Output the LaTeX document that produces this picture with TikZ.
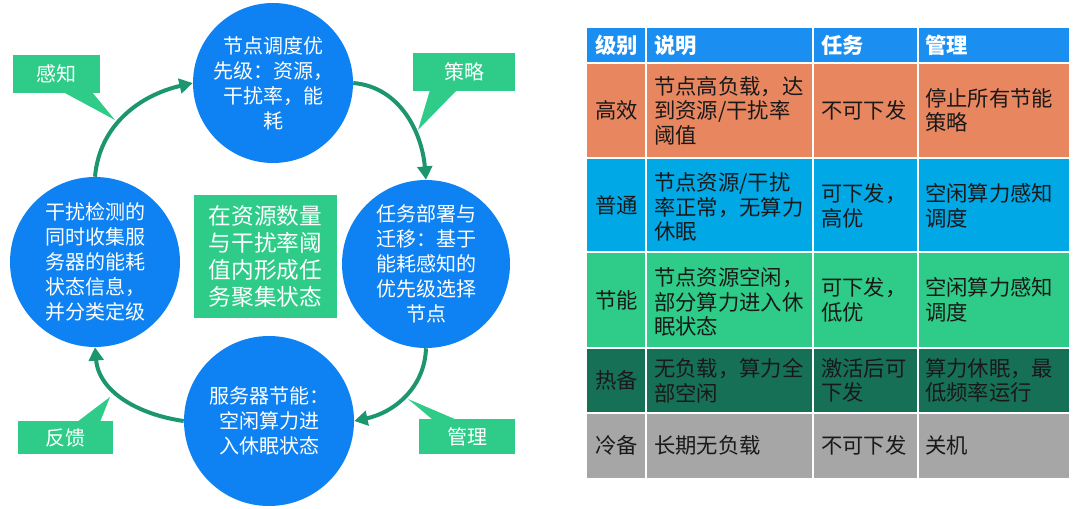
\documentclass[tikz,border=0pt]{standalone}
\usepackage{fontspec}
\setmainfont{Noto Sans CJK SC}
\usetikzlibrary{arrows.meta}
\definecolor{cblue}{RGB}{14,130,242}
\definecolor{cgreen}{RGB}{46,204,136}
\definecolor{carrow}{RGB}{28,150,110}
\definecolor{hblue}{RGB}{27,142,241}
\definecolor{rorange}{RGB}{232,134,96}
\definecolor{rcyan}{RGB}{0,168,230}
\definecolor{rgreen}{RGB}{46,204,136}
\definecolor{rdark}{RGB}{22,112,86}
\definecolor{rgray}{RGB}{166,166,166}
\definecolor{ctext}{RGB}{25,25,25}
\begin{document}
\begin{tikzpicture}[x=0.75pt,y=-0.75pt,
  bubble/.style={circle, fill=cblue, text=white, inner sep=0pt, align=center,
    font=\fontsize{15}{18.75}\selectfont},
  flow/.style={carrow, line width=3pt, -{Triangle[length=10pt,width=11pt]}},
  tag/.style={fill=cgreen, text=white, inner sep=0pt, font=\fontsize{15}{18}\selectfont},
  tbl/.style={inner sep=0pt, align=left, text=ctext, font=\fontsize{16}{18.4}\selectfont},
  tblc/.style={tbl, align=center},
  hdr/.style={tbl, text=white, font=\fontsize{16}{18.4}\selectfont\bfseries},
  grid/.style={white, line width=1.5pt}
]
\useasboundingbox (0,0) rectangle (1080,509);

% ---------- circles ----------
\node[bubble, minimum size=120pt] (top) at (273,83) {节点调度优\\先级：资源，\\干扰率，能\\耗};
\node[bubble, minimum size=127.5pt] (left) at (95,262) {干扰检测的\\同时收集服\\务器的能耗\\状态信息，\\并分类定级};
\node[bubble, minimum size=126pt] (right) at (426,264) {任务部署与\\迁移：基于\\能耗感知的\\优先级选择\\节点};
\node[bubble, minimum size=127.5pt] (bottom) at (269,421) {服务器节能：\\空闲算力进\\入休眠状态};

% ---------- centre box ----------
\node[fill=cgreen, text=white, inner sep=0pt, minimum width=107.25pt, minimum height=92.25pt,
  align=center, font=\fontsize{17}{20.25}\selectfont] (mid) at (265.5,256.5)
  {在资源数量\\与干扰率阈\\值内形成任\\务聚集状态};

% ---------- arrows ----------
\draw[flow] (left.north) to[out=85,in=193] (top.west);
\draw[flow] (top.east) to[out=-5,in=95] (right.north);
\draw[flow] (right.south) to[out=-92,in=12] (bottom.east);
\draw[flow] (bottom.west) to[out=172,in=-85] (left.south);

% ---------- callouts ----------
\fill[cgreen] (63,92) -- (115,120) -- (92,92) -- cycle;
\node[tag, minimum width=65.25pt, minimum height=28.5pt] (gz) at (56.5,74) {感知};
\fill[cgreen] (430,90) -- (418,130) -- (457,90) -- cycle;
\node[tag, minimum width=76.5pt, minimum height=28.5pt] (cl) at (464,72) {策略};
\fill[cgreen] (77,422) -- (110,397) -- (100,422) -- cycle;
\node[tag, minimum width=71.25pt, minimum height=24.75pt] (fk) at (65.5,437.5) {反馈};
\fill[cgreen] (433,420) -- (408,399) -- (457,420) -- cycle;
\node[tag, minimum width=72pt, minimum height=26.25pt] (gl) at (467,436.5) {管理};

% ---------- table ----------
\fill[hblue]   (587,28)  rectangle (1069,63);
\fill[rorange] (587,63)  rectangle (1069,158);
\fill[rcyan]   (587,158) rectangle (1069,252);
\fill[rgreen]  (587,252) rectangle (1069,348);
\fill[rdark]   (587,348) rectangle (1069,413);
\fill[rgray]   (587,413) rectangle (1069,478);
\foreach \yy in {63,158,252,348,413} \draw[grid] (587,\yy) -- (1069,\yy);
\foreach \xx in {646,813,918} \draw[grid] (\xx,28) -- (\xx,478);

% header
\node[hdr, align=center] (h1) at (616.5,45.5) {级别};
\node[hdr, anchor=west] (h2) at (654,45.5) {说明};
\node[hdr, anchor=west] (h3) at (821,45.5) {任务};
\node[hdr, anchor=west] (h4) at (925,45.5) {管理};
% row 1
\node[tblc] (a1) at (616.5,110.5) {高效};
\node[tbl, anchor=west] (b1) at (654,110.5) {节点高负载，达\\到资源/干扰率\\阈值};
\node[tbl, anchor=west] (c1) at (821,110.5) {不可下发};
\node[tbl, anchor=west] (d1) at (925,110.5) {停止所有节能\\策略};
% row 2
\node[tblc] (a2) at (616.5,205) {普通};
\node[tbl, anchor=west] (b2) at (654,207) {节点资源/干扰\\率正常，无算力\\休眠};
\node[tbl, anchor=west] (c2) at (821,206) {可下发，\\高优};
\node[tbl, anchor=west] (d2) at (925,206) {空闲算力感知\\调度};
% row 3
\node[tblc] (a3) at (616.5,300) {节能};
\node[tbl, anchor=west] (b3) at (654,302) {节点资源空闲，\\部分算力进入休\\眠状态};
\node[tbl, anchor=west] (c3) at (821,300) {可下发，\\低优};
\node[tbl, anchor=west] (d3) at (925,300) {空闲算力感知\\调度};
% row 4
\node[tblc] (a4) at (616.5,380.5) {热备};
\node[tbl, anchor=west] (b4) at (654,380.5) {无负载，算力全\\部空闲};
\node[tbl, anchor=west] (c4) at (821,380.5) {激活后可\\下发};
\node[tbl, anchor=west] (d4) at (925,380.5) {算力休眠，最\\低频率运行};
% row 5
\node[tblc] (a5) at (616.5,445.5) {冷备};
\node[tbl, anchor=west] (b5) at (654,445.5) {长期无负载};
\node[tbl, anchor=west] (c5) at (821,445.5) {不可下发};
\node[tbl, anchor=west] (d5) at (925,445.5) {关机};
\end{tikzpicture}
\end{document}
